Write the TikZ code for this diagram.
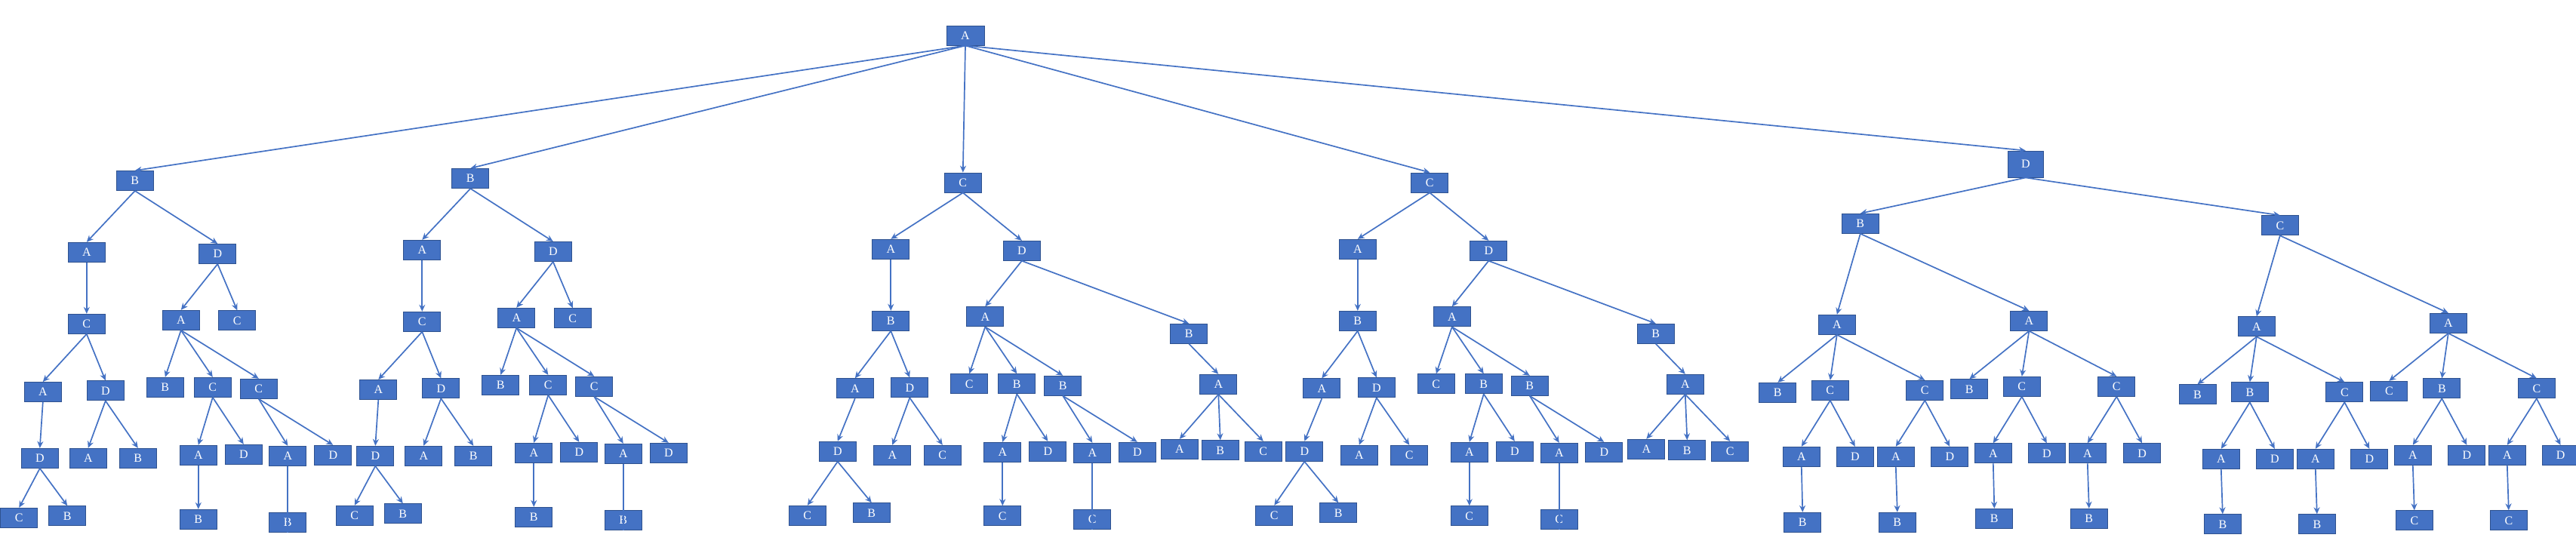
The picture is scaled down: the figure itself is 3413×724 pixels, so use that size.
\documentclass[tikz,border=0pt]{standalone}
\usepackage{fontspec}
\setmainfont{Liberation Serif}
\usetikzlibrary{arrows.meta}
\definecolor{boxfill}{HTML}{4472C4}
\definecolor{boxline}{HTML}{2F528F}
\definecolor{edgecol}{HTML}{4472C4}
\tikzset{
  box/.style={draw=boxline, fill=boxfill, line width=0.9pt, minimum width=49pt,
    minimum height=26pt, inner sep=0pt, text=white, font=\fontsize{16}{16}\selectfont},
  conn/.style={draw=edgecol, line width=1.7pt, -{Stealth[length=9pt,width=8pt]}},
  bare/.style={draw=edgecol, line width=1.7pt},
}
% tree of type "B" (trees 1 and 2)
\newcommand{\treeBtype}[3]{%
\begin{scope}[shift={(#2,#3)}]
\node[box] (#1) at (178.8,239.5) {B};
\node[box] (#1a) at (114.8,334.3) {A};
\node[box] (#1b) at (288.3,336.5) {D};
\node[box] (#1aa) at (114.8,429.3) {C};
\node[box] (#1aaa) at (56.8,519.5) {A};
\node[box] (#1aab) at (139.8,517.8) {D};
\node[box] (#1aaaa) at (52.8,607.3) {D};
\node[box] (#1aaaaa) at (25.3,686.3) {C};
\node[box] (#1aaaab) at (89.3,683.8) {B};
\node[box] (#1aaba) at (116.8,607.3) {A};
\node[box] (#1aabb) at (182.8,607.3) {B};
\node[box] (#1ba) at (239.8,424.3) {A};
\node[box] (#1bb) at (314.3,424.8) {C};
\node[box] (#1baa) at (218.8,513.3) {B};
\node[box] (#1bab) at (281.8,513.3) {C};
\node[box] (#1bac) at (342.8,515.3) {C};
\node[box] (#1baba) at (262.8,603.3) {A};
\node[box] (#1babb) at (322.8,602.3) {D};
\node[box] (#1babaa) at (262.8,688.3) {B};
\node[box] (#1baca) at (381.3,604.3) {A};
\node[box] (#1bacb) at (441.3,603.3) {D};
\node[box] (#1bacaa) at (381.3,692.3) {B};
\end{scope}
\draw[conn] (#1.south) -- (#1a.north);
\draw[conn] (#1.south) -- (#1b.north);
\draw[conn] (#1a.south) -- (#1aa.north);
\draw[conn] (#1aa.south) -- (#1aaa.north);
\draw[conn] (#1aa.south) -- (#1aab.north);
\draw[conn] (#1aaa.south) -- (#1aaaa.north);
\draw[conn] (#1aaaa.south) -- (#1aaaaa.north);
\draw[conn] (#1aaaa.south) -- (#1aaaab.north);
\draw[conn] (#1aab.south) -- (#1aaba.north);
\draw[conn] (#1aab.south) -- (#1aabb.north);
\draw[conn] (#1b.south) -- (#1ba.north);
\draw[conn] (#1b.south) -- (#1bb.north);
\draw[conn] (#1ba.south) -- (#1baa.north);
\draw[conn] (#1ba.south) -- (#1bab.north);
\draw[conn] (#1ba.south) -- (#1bac.north);
\draw[conn] (#1bab.south) -- (#1baba.north);
\draw[conn] (#1bab.south) -- (#1babb.north);
\draw[conn] (#1baba.south) -- (#1babaa.north);
\draw[conn] (#1bac.south) -- (#1baca.north);
\draw[conn] (#1bac.south) -- (#1bacb.north);
\draw[bare] (#1baca.south) -- (#1bacaa.south);
}
% tree of type "C" (trees 3 and 4)
\newcommand{\treeCtype}[3]{%
\begin{scope}[shift={(#2,#3)}]
\node[box] (#1) at (1275.8,242) {C};
\node[box] (#1a) at (1180.3,330.3) {A};
\node[box] (#1b) at (1353.8,332.3) {D};
\node[box] (#1aa) at (1180.3,425.3) {B};
\node[box] (#1aaa) at (1132.8,514.8) {A};
\node[box] (#1aab) at (1205.3,513.8) {D};
\node[box] (#1aaaa) at (1109.8,598.3) {D};
\node[box] (#1aaaaa) at (1069.8,683.3) {C};
\node[box] (#1aaaab) at (1154.8,679.8) {B};
\node[box] (#1aaba) at (1182.3,603.3) {A};
\node[box] (#1aabb) at (1248.8,603.3) {C};
\node[box] (#1ba) at (1305.3,419.8) {A};
\node[box] (#1bb) at (1575.3,442.3) {B};
\node[box] (#1baa) at (1284.3,508.8) {C};
\node[box] (#1bab) at (1347.3,508.8) {B};
\node[box] (#1bac) at (1408.3,511.3) {B};
\node[box] (#1baba) at (1328.3,599.3) {A};
\node[box] (#1babb) at (1388.3,598.3) {D};
\node[box] (#1babaa) at (1328.3,683.8) {C};
\node[box] (#1baca) at (1447.3,600.3) {A};
\node[box] (#1bacb) at (1506.8,599.3) {D};
\node[box] (#1bacaa) at (1447.3,688.3) {C};
\node[box] (#1bba) at (1614.3,509.3) {A};
\node[box] (#1bbaa) at (1562.8,595.3) {A};
\node[box] (#1bbab) at (1616.8,596.8) {B};
\node[box] (#1bbac) at (1673.8,598.3) {C};
\end{scope}
\draw[conn] (#1.south) -- (#1a.north);
\draw[conn] (#1.south) -- (#1b.north);
\draw[conn] (#1a.south) -- (#1aa.north);
\draw[conn] (#1aa.south) -- (#1aaa.north);
\draw[conn] (#1aa.south) -- (#1aab.north);
\draw[conn] (#1aaa.south) -- (#1aaaa.north);
\draw[conn] (#1aaaa.south) -- (#1aaaaa.north);
\draw[conn] (#1aaaa.south) -- (#1aaaab.north);
\draw[conn] (#1aab.south) -- (#1aaba.north);
\draw[conn] (#1aab.south) -- (#1aabb.north);
\draw[conn] (#1b.south) -- (#1ba.north);
\draw[conn] (#1b.south) -- (#1bb.north);
\draw[conn] (#1ba.south) -- (#1baa.north);
\draw[conn] (#1ba.south) -- (#1bab.north);
\draw[conn] (#1ba.south) -- (#1bac.north);
\draw[conn] (#1bab.south) -- (#1baba.north);
\draw[conn] (#1bab.south) -- (#1babb.north);
\draw[conn] (#1baba.south) -- (#1babaa.north);
\draw[conn] (#1bac.south) -- (#1baca.north);
\draw[conn] (#1bac.south) -- (#1bacb.north);
\draw[bare] (#1baca.south) -- (#1bacaa.south);
\draw[conn] (#1bb.south) -- (#1bba.north);
\draw[conn] (#1bba.south) -- (#1bbaa.north);
\draw[conn] (#1bba.south) -- (#1bbab.north);
\draw[conn] (#1bba.south) -- (#1bbac.north);
}
\begin{document}
\begin{tikzpicture}[x=1pt,y=-1pt]
\useasboundingbox (0,0) rectangle (3413,724);
\node[box, minimum width=50pt] (root) at (1279,47) {A};

\treeBtype{ta}{0}{0}
\treeBtype{tb}{444.5}{-3}
\treeCtype{tc}{0}{0}
\treeCtype{td}{618.5}{0}

% tree 5
\node[box, minimum width=47pt, minimum height=35pt] (te) at (2683.8,217.5) {D};
\node[box] (tea) at (2464.8,296.3) {B};
\node[box] (teb) at (3020.8,298.8) {C};
\node[box] (teaa) at (2433.8,430.3) {A};
\node[box] (teab) at (2688.3,425.3) {A};
\node[box] (teaaa) at (2355.3,520.3) {B};
\node[box] (teaab) at (2424.8,517.3) {C};
\node[box] (teaac) at (2550.3,517.3) {C};
\node[box] (teaaba) at (2386.8,605.3) {A};
\node[box] (teaabb) at (2457.8,605.3) {D};
\node[box] (teaabaa) at (2388.3,692.3) {B};
\node[box] (teaaca) at (2511.8,605.3) {A};
\node[box] (teaacb) at (2583.3,605.3) {D};
\node[box] (teaacaa) at (2513.8,692.3) {B};
\node[box] (teaba) at (2609.3,515.8) {B};
\node[box] (teabb) at (2678.8,512.3) {C};
\node[box] (teabc) at (2804.3,512.3) {C};
\node[box] (teabba) at (2640.8,600.8) {A};
\node[box] (teabbb) at (2711.8,600.8) {D};
\node[box] (teabbaa) at (2642.3,687.3) {B};
\node[box] (teabca) at (2765.8,600.8) {A};
\node[box] (teabcb) at (2838,600.8) {D};
\node[box] (teabcaa) at (2767.8,687.3) {B};
\node[box] (teba) at (2989.8,432.8) {A};
\node[box] (tebb) at (3243.8,428.3) {A};
\node[box] (tebaa) at (2911.5,522.8) {B};
\node[box] (tebab) at (2980.8,519.8) {B};
\node[box] (tebac) at (3106.3,519.8) {C};
\node[box] (tebaba) at (2942.8,608.3) {A};
\node[box] (tebabb) at (3013.8,608.3) {D};
\node[box] (tebabaa) at (2944.8,694.8) {B};
\node[box] (tebaca) at (3067.8,608.3) {A};
\node[box] (tebacb) at (3139.3,608.3) {D};
\node[box] (tebacaa) at (3069.8,694.8) {B};
\node[box] (tebba) at (3165.3,518.3) {C};
\node[box] (tebbb) at (3235.3,514.8) {B};
\node[box] (tebbc) at (3360.8,514.8) {C};
\node[box] (tebbba) at (3196.8,603.3) {A};
\node[box] (tebbbb) at (3268.3,603.3) {D};
\node[box] (tebbbaa) at (3198.8,689.8) {C};
\node[box] (tebbca) at (3321.8,603.3) {A};
\node[box] (tebbcb) at (3392.5,603.3) {D};
\node[box] (tebbcaa) at (3323.8,689.8) {C};

\draw[conn] (te.south) -- (tea.north);
\draw[conn] (te.south) -- (teb.north);
\draw[conn] (tea.south) -- (teaa.north);
\draw[conn] (tea.south) -- (teab.north);
\draw[conn] (teaa.south) -- (teaaa.north);
\draw[conn] (teaa.south) -- (teaab.north);
\draw[conn] (teaa.south) -- (teaac.north);
\draw[conn] (teaab.south) -- (teaaba.north);
\draw[conn] (teaab.south) -- (teaabb.north);
\draw[conn] (teaaba.south) -- (teaabaa.north);
\draw[conn] (teaac.south) -- (teaaca.north);
\draw[conn] (teaac.south) -- (teaacb.north);
\draw[conn] (teaaca.south) -- (teaacaa.north);
\draw[conn] (teab.south) -- (teaba.north);
\draw[conn] (teab.south) -- (teabb.north);
\draw[conn] (teab.south) -- (teabc.north);
\draw[conn] (teabb.south) -- (teabba.north);
\draw[conn] (teabb.south) -- (teabbb.north);
\draw[conn] (teabba.south) -- (teabbaa.north);
\draw[conn] (teabc.south) -- (teabca.north);
\draw[conn] (teabc.south) -- (teabcb.north);
\draw[conn] (teabca.south) -- (teabcaa.north);
\draw[conn] (teb.south) -- (teba.north);
\draw[conn] (teb.south) -- (tebb.north);
\draw[conn] (teba.south) -- (tebaa.north);
\draw[conn] (teba.south) -- (tebab.north);
\draw[conn] (teba.south) -- (tebac.north);
\draw[conn] (tebab.south) -- (tebaba.north);
\draw[conn] (tebab.south) -- (tebabb.north);
\draw[conn] (tebaba.south) -- (tebabaa.north);
\draw[conn] (tebac.south) -- (tebaca.north);
\draw[conn] (tebac.south) -- (tebacb.north);
\draw[conn] (tebaca.south) -- (tebacaa.north);
\draw[conn] (tebb.south) -- (tebba.north);
\draw[conn] (tebb.south) -- (tebbb.north);
\draw[conn] (tebb.south) -- (tebbc.north);
\draw[conn] (tebbb.south) -- (tebbba.north);
\draw[conn] (tebbb.south) -- (tebbbb.north);
\draw[conn] (tebbba.south) -- (tebbbaa.north);
\draw[conn] (tebbc.south) -- (tebbca.north);
\draw[conn] (tebbc.south) -- (tebbcb.north);
\draw[conn] (tebbca.south) -- (tebbcaa.north);

% root connectors
\draw[conn] (root.south) -- (ta.north);
\draw[conn] (root.south) -- (tb.north);
\draw[conn] (root.south) -- (tc.north);
\draw[conn] (root.south) -- (td.north);
\draw[conn] (root.south) -- (te.north);
\end{tikzpicture}
\end{document}
